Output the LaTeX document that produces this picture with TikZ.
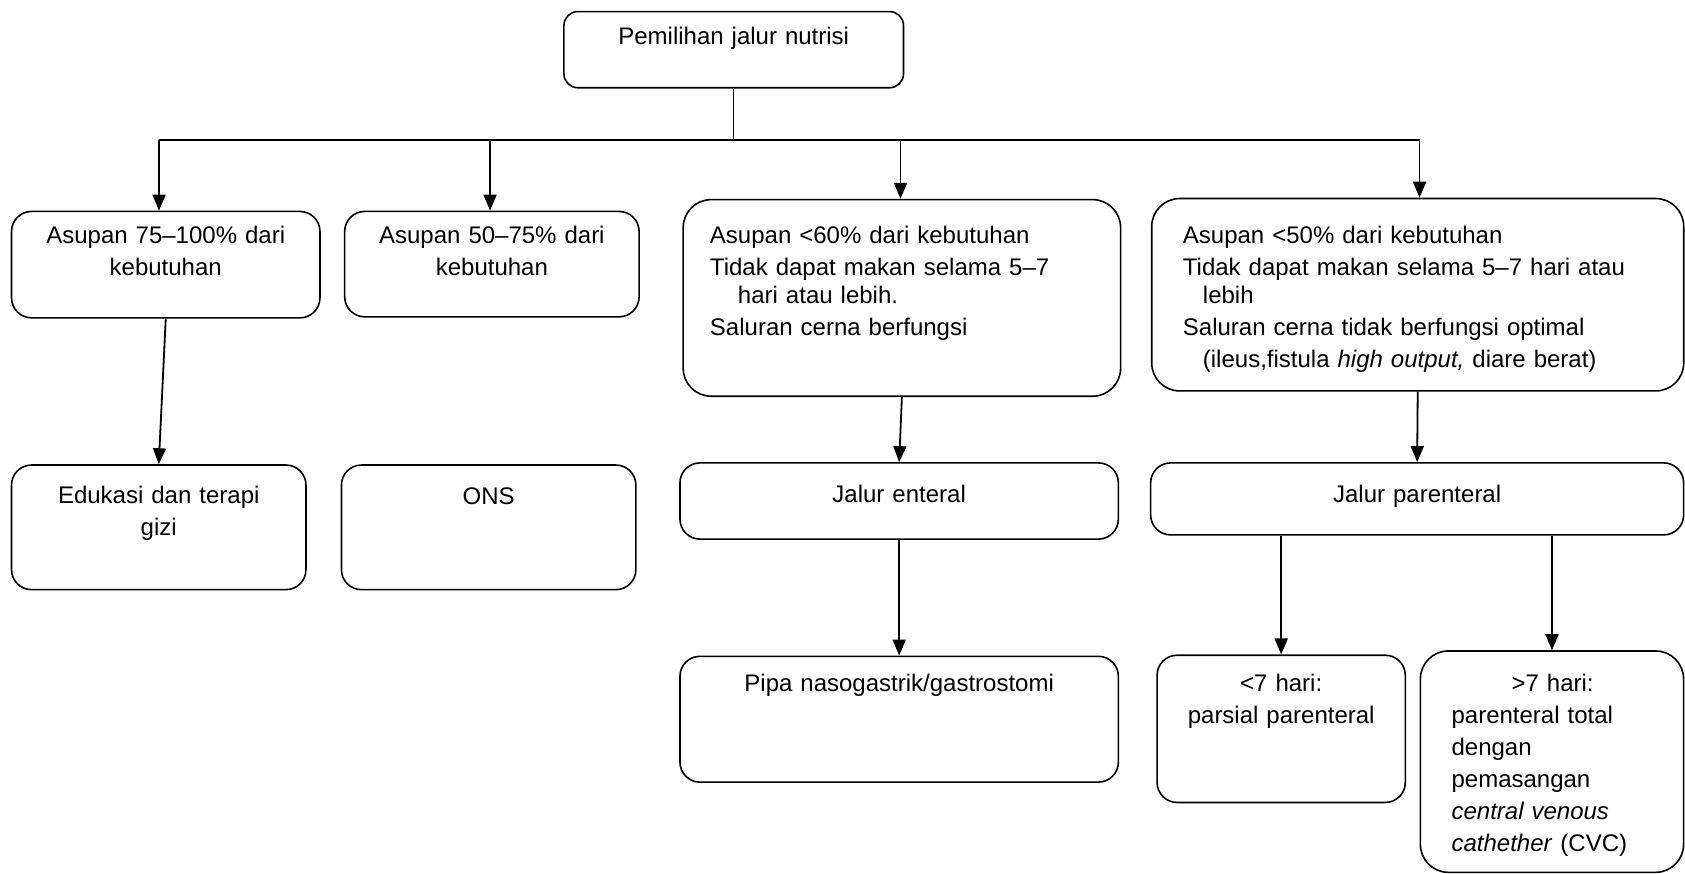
\documentclass[tikz,border=0pt]{standalone}
\usepackage{fontspec}
\setmainfont{Liberation Sans}
\usetikzlibrary{arrows.meta}

\begin{document}
\begin{tikzpicture}[x=0.5373pt, y=-0.5373pt, >={Triangle[length=8pt,width=6.5pt]},
route_box/.style={draw, rounded corners=10pt, line width=0.8pt, anchor=north west, inner ysep=0pt, inner xsep=5pt, align=center, font=\fontsize{12}{16}\selectfont},
note_box/.style={route_box, align=left, rounded corners=14pt},
box_dim/.style n args={3}{text width=#1, text height=#2, text depth=#3},
flow/.style={line width=0.9pt}]
    \useasboundingbox (0,0) rectangle (1568,813);
    % Nodes
    \node (Pil) [route_box, box_dim={159.8pt}{16.7pt}{21.4pt}, rounded corners=7pt] at (524,10) {Pemilihan jalur nutrisi};
    \node (Full) [route_box, box_dim={144.2pt}{16.1pt}{37.1pt}] at (10,196) {Asupan 75–100\% dari\\kebutuhan};
    \node (Half) [route_box, box_dim={137.2pt}{16.1pt}{36.6pt}] at (320,196) {Asupan 50–75\% dari\\kebutuhan};
    \node (Low) [note_box, inner xsep=13.4pt, box_dim={191.9pt}{22pt}{76.3pt}] at (635,185) {Asupan <60\% dari kebutuhan\\
      Tidak dapat makan selama 5–7\\[-2pt]
      \hspace*{14pt}hari atau lebih.\\
      Saluran cerna berfungsi};
    \node (Poor) [note_box, inner xsep=15.6pt, box_dim={234.8pt}{22.6pt}{73.6pt}] at (1071,184) {Asupan <50\% dari kebutuhan\\
      Tidak dapat makan selama 5–7 hari atau\\[-2pt]
      \hspace*{10pt}lebih\\
      Saluran cerna tidak berfungsi optimal\\
      \hspace*{10pt}(ileus,fistula \textit{high output,} diare berat)};
    \node (Edu) [route_box, box_dim={137.2pt}{19.3pt}{43pt}] at (10,432) {Edukasi dan terapi\\gizi};
    \node (ONS) [route_box, box_dim={137.2pt}{19.8pt}{42.5pt}] at (317,432) {ONS};
    \node (Ent) [route_box, box_dim={209.2pt}{19.9pt}{18.2pt}] at (632,430) {Jalur enteral};
    \node (Par) [route_box, box_dim={256.5pt}{19.9pt}{16.1pt}] at (1070,430) {Jalur parenteral};
    \node (NGT) [route_box, box_dim={209.2pt}{17.7pt}{45.2pt}] at (632,610) {Pipa nasogastrik/gastrostomi};
    \node (PPN) [route_box, box_dim={114.1pt}{18.3pt}{55.3pt}] at (1076,609) {<7 hari:\\parsial parenteral};
    \node (TPN) [note_box, inner xsep=15.6pt, box_dim={100.4pt}{20.4pt}{90.3pt}] at (1321,605) {\hspace*{30pt}>7 hari:\\
      parenteral total\\
      dengan\\
      pemasangan\\
      \textit{central venous}\\
      \textit{cathether} (CVC)};

    % Arrows
    \coordinate (s1) at (148,130);
    \coordinate (s2) at (456,130);
    \coordinate (s3) at (838,130);
    \coordinate (s4) at (1321,130);
    \draw[line width=0.6pt] (Pil.south) -- (Pil.south |- s1);
    \draw[flow] (s1) -- (s4);
    \draw[flow, ->] (s1) -- (s1 |- Full.north);
    \draw[flow, ->] (s2) -- (s2 |- Half.north);
    \draw[flow, ->] (s3) -- (s3 |- Low.north);
    \draw[flow, ->] (s4) -- (s4 |- Poor.north);
    \draw[flow, ->] (Full.south) -- (Edu.north);
    \draw[flow, ->] (Low.south) -- (Ent.north);
    \draw[flow, ->] (Poor.south) -- (Par.north);
    \draw[flow, ->] (Ent.south) -- (NGT.north);
    \draw[flow, ->] (PPN.north |- Par.south) -- (PPN.north);
    \draw[flow, ->] (TPN.north |- Par.south) -- (TPN.north);
\end{tikzpicture}
\end{document}
